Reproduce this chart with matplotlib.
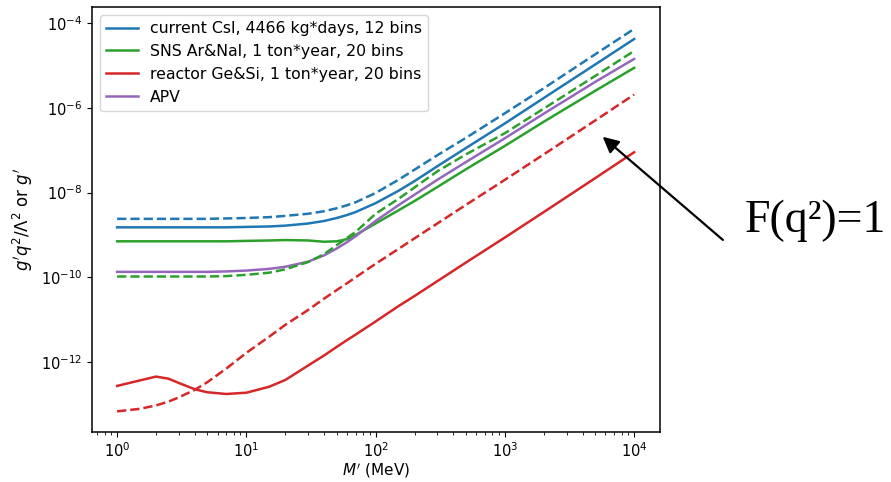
import numpy as np
import matplotlib
matplotlib.use("Agg")
import matplotlib.pyplot as plt
from matplotlib.ticker import NullLocator

# mediator mass grid (MeV)
mass = [1, 1.5, 2, 2.5, 3, 4, 5, 7, 10, 15, 20, 30, 40, 50, 60, 70,
        100, 150, 200, 300, 500, 1000, 2000, 5000, 10000]

# log10 of the bound
csi_solid = [-8.82, -8.82, -8.82, -8.82, -8.82, -8.82, -8.82, -8.82, -8.81, -8.80, -8.78, -8.73, -8.67,
             -8.60, -8.53, -8.46, -8.25, -7.96, -7.73, -7.38, -6.95, -6.37, -5.77, -4.98, -4.38]
csi_dashed = [-8.62, -8.62, -8.62, -8.62, -8.62, -8.62, -8.62, -8.61, -8.60, -8.58, -8.55, -8.50, -8.44,
              -8.37, -8.30, -8.23, -8.01, -7.70, -7.46, -7.12, -6.71, -6.13, -5.54, -4.74, -4.14]
sns_solid = [-9.15, -9.15, -9.15, -9.15, -9.15, -9.15, -9.15, -9.15, -9.14, -9.13, -9.12, -9.13, -9.16,
             -9.15, -9.10, -9.00, -8.73, -8.42, -8.20, -7.87, -7.45, -6.90, -6.33, -5.60, -5.06]
sns_dashed = [-9.98, -9.98, -9.98, -9.98, -9.98, -9.98, -9.98, -9.97, -9.94, -9.89, -9.81, -9.64, -9.45,
              -9.24, -9.07, -8.93, -8.50, -8.15, -7.88, -7.50, -7.10, -6.60, -6.02, -5.25, -4.66]
reactor_solid = [-12.56, -12.43, -12.34, -12.39, -12.49, -12.64, -12.71, -12.75, -12.72, -12.58, -12.42,
                 -12.08, -11.84, -11.64, -11.48, -11.35, -11.04, -10.68, -10.44, -10.09, -9.65, -9.06,
                 -8.46, -7.66, -7.05]
reactor_dashed = [-13.16, -13.10, -13.02, -12.93, -12.83, -12.65, -12.47, -12.15, -11.78, -11.40, -11.12,
                  -10.77, -10.50, -10.30, -10.14, -10.00, -9.68, -9.33, -9.08, -8.73, -8.29, -7.70,
                  -7.10, -6.30, -5.69]
apv = [-9.87, -9.87, -9.87, -9.87, -9.87, -9.87, -9.87, -9.86, -9.84, -9.80, -9.75, -9.63, -9.48,
       -9.32, -9.17, -9.03, -8.67, -8.30, -8.05, -7.70, -7.28, -6.72, -6.14, -5.39, -4.85]

labels = ['current CsI, 4466 kg*days, 12 bins',
          'SNS Ar&NaI, 1 ton*year, 20 bins',
          'reactor Ge&Si, 1 ton*year, 20 bins',
          'APV']
y_ticks = [1e-4, 1e-6, 1e-8, 1e-10, 1e-12]

fig = plt.figure(figsize=(8.91, 4.82), dpi=100)
ax = fig.add_axes([0.1033, 0.1037, 0.6374, 0.8818])

m = np.array(mass)
ax.plot(m, 10**np.array(csi_solid), color='C0', lw=1.8, label=labels[0])
ax.plot(m, 10**np.array(sns_solid), color='C2', lw=1.8, label=labels[1])
ax.plot(m, 10**np.array(reactor_solid), color='C3', lw=1.8, label=labels[2])
ax.plot(m, 10**np.array(apv), color='C4', lw=1.8, label=labels[3])
ax.plot(m, 10**np.array(csi_dashed), color='C0', lw=1.8, ls='--')
ax.plot(m, 10**np.array(sns_dashed), color='C2', lw=1.8, ls='--')
ax.plot(m, 10**np.array(reactor_dashed), color='C3', lw=1.8, ls='--')

ax.set_xscale('log')
ax.set_yscale('log')
ax.set_xlim(10**-0.194, 10**4.2)
ax.set_ylim(10**-13.647, 10**-3.624)
ax.set_yticks(y_ticks)
ax.yaxis.set_minor_locator(NullLocator())
ax.tick_params(labelsize=10.5)
for s in ax.spines.values():
    s.set_linewidth(1.1)

ax.set_xlabel(r"$M'$ (MeV)", fontsize=11, labelpad=0.5)
ax.set_ylabel(r"$g'q^2/\Lambda^2$ or $g'$", fontsize=12)
ax.legend(loc='upper left', fontsize=11.3)

# annotation for the dashed curves
fig.text(0.836, 0.5187, 'F(q²)=1', family='Liberation Serif', fontsize=33, va='baseline')
ax.annotate('', xy=(0.674, 0.720), xycoords='figure fraction',
            xytext=(0.8137, 0.4985), textcoords='figure fraction',
            arrowprops=dict(arrowstyle='-|>', color='k', lw=1.6, mutation_scale=24),
            annotation_clip=False)

fig.savefig('out.png', dpi=100)
